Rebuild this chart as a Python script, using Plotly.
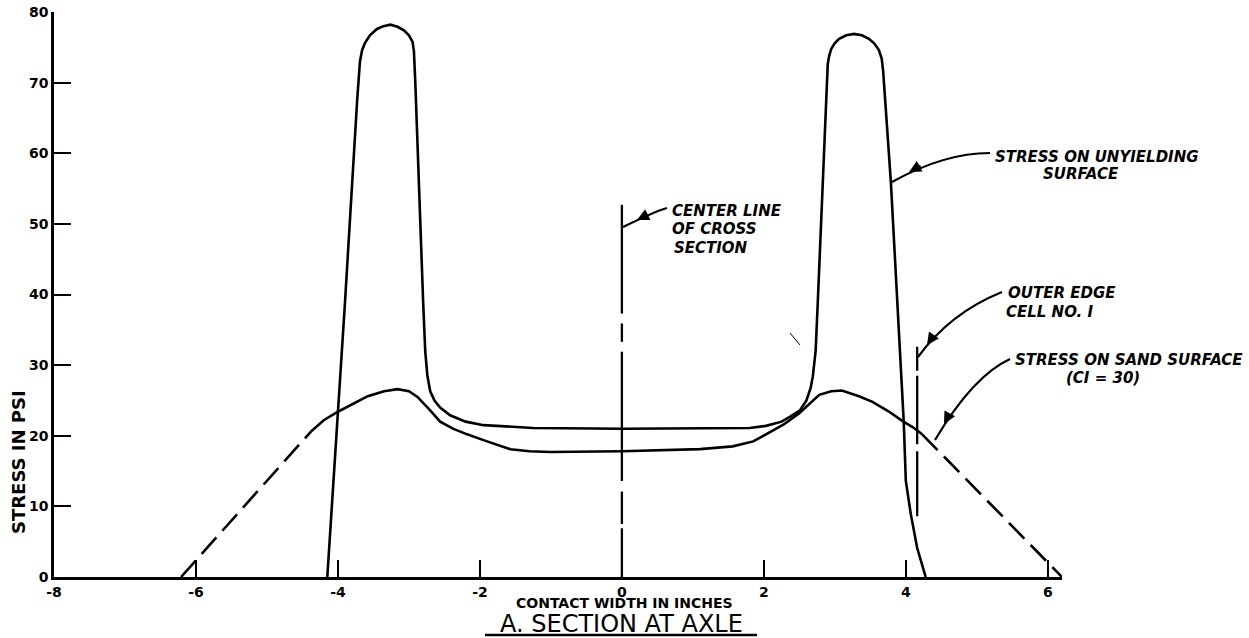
import plotly.graph_objects as go

# ---------------- data ----------------
unyielding_x = [-4.15, -4.03, -3.90, -3.73, -3.70, -3.69, -3.66, -3.62, -3.55, -3.45, -3.36, -3.26,
                -3.16, -3.07, -3.00, -2.95, -2.93, -2.92, -2.91, -2.80, -2.77, -2.74, -2.70, -2.64,
                -2.56, -2.42, -2.20, -1.95, -1.25, 0.0, 1.10, 1.80, 2.03, 2.25, 2.37, 2.51, 2.60,
                2.66, 2.69, 2.73, 2.76, 2.90, 2.92, 2.95, 3.00, 3.06, 3.16, 3.27, 3.38, 3.48, 3.56,
                3.62, 3.66, 3.68, 3.79, 3.88, 3.94, 3.97, 4.00, 4.07, 4.16, 4.28]
unyielding_y = [0, 18, 39, 67.4, 71.5, 73.0, 74.6, 75.6, 76.7, 77.6, 78.0, 78.2,
                77.9, 77.4, 76.7, 75.8, 74.5, 73.0, 70.0, 39, 31.9, 28.5, 26.3, 25.0,
                24.0, 22.9, 22.0, 21.5, 21.1, 21.0, 21.0, 21.1, 21.4, 22.0, 22.7, 23.6, 25.0,
                26.8, 28.4, 32.1, 39, 72.6, 73.8, 74.8, 75.6, 76.2, 76.7, 76.9, 76.7, 76.2, 75.5,
                74.6, 73.4, 71.7, 55.8, 39, 27.8, 22.1, 13.6, 8.9, 4.1, 0]

sand_x = [-4.38, -4.20, -4.00, -3.80, -3.58, -3.35, -3.16, -3.00, -2.88, -2.72, -2.56, -2.38,
          -2.18, -1.90, -1.57, -1.30, -1.01, 0.0, 1.10, 1.56, 1.85, 2.03, 2.28, 2.50, 2.65,
          2.78, 2.95, 3.10, 3.34, 3.53, 3.75, 3.95, 4.10, 4.23]
sand_y = [20.6, 22.2, 23.4, 24.5, 25.6, 26.3, 26.6, 26.3, 25.5, 23.8, 22.0, 21.0,
          20.2, 19.2, 18.1, 17.8, 17.7, 17.8, 18.1, 18.5, 19.2, 20.2, 21.6, 23.2, 24.6,
          25.8, 26.3, 26.4, 25.6, 24.8, 23.5, 22.1, 21.2, 20.2]

sand_left_x = [-6.21, -4.38]
sand_left_y = [0, 20.6]
sand_right_x = [4.23, 6.20]
sand_right_y = [20.2, 0]

center_x = [0, 0, None, 0, 0, None, 0, 0, None, 0, 0, None, 0, 0]
center_y = [52.7, 37.3, None, 35.9, 33.3, None, 31.9, 13.6, None, 12.1, 7.5, None, 6.9, 0]

edge_x = [4.16, 4.16, None, 4.16, 4.16, None, 4.16, 4.16]
edge_y = [32.6, 29.2, None, 28.5, 18.8, None, 17.8, 8.6]

x_ticks = [-8, -6, -4, -2, 0, 2, 4, 6]
x_labels = ["-8", "-6", "-4", "-2", "0", "2", "4", "6"]
y_ticks = [0, 10, 20, 30, 40, 50, 60, 70, 80]

# ---------------- layout geometry ----------------
W_PX, H_PX = 1249, 638
L, R, T, B = 54, 187, 12, 61
PW, PH = W_PX - L - R, H_PX - T - B
XR = [-8, 6.2]
YR = [0, 80]


def px(xp):  # pixel -> paper x
    return (xp - L) / PW


def py(yp):  # pixel -> paper y
    return (H_PX - B - yp) / PH


def dx(xp):  # pixel -> data x
    return XR[0] + (xp - L) / PW * (XR[1] - XR[0])


def dy(yp):  # pixel -> data y
    return YR[0] + (H_PX - B - yp) / PH * (YR[1] - YR[0])


LW = 2.6
fig = go.Figure()
fig.add_trace(go.Scatter(x=unyielding_x, y=unyielding_y, mode="lines",
                         line=dict(color="black", width=LW), hoverinfo="skip"))
fig.add_trace(go.Scatter(x=sand_x, y=sand_y, mode="lines",
                         line=dict(color="black", width=LW), hoverinfo="skip"))
for xs, ys in [(sand_left_x, sand_left_y), (sand_right_x, sand_right_y)]:
    fig.add_trace(go.Scatter(x=xs, y=ys, mode="lines",
                             line=dict(color="black", width=LW, dash="22px,9px"),
                             hoverinfo="skip"))
fig.add_trace(go.Scatter(x=center_x, y=center_y, mode="lines", connectgaps=False,
                         line=dict(color="black", width=2.3), hoverinfo="skip"))
fig.add_trace(go.Scatter(x=edge_x, y=edge_y, mode="lines", connectgaps=False,
                         line=dict(color="black", width=2.3), hoverinfo="skip"))

FONT = "DejaVu Sans"
shapes = []
annotations = []


def curve(s, c, e):
    path = "M {:.4f},{:.4f} Q {:.4f},{:.4f} {:.4f},{:.4f}".format(
        dx(s[0]), dy(s[1]), dx(c[0]), dy(c[1]), dx(e[0]), dy(e[1]))
    shapes.append(dict(type="path", path=path, xref="x", yref="y",
                       line=dict(color="black", width=2.2)))


def head(hx, hy, ax, ay):
    annotations.append(dict(x=px(hx), y=py(hy), xref="paper", yref="paper", text="",
                            showarrow=True, arrowhead=2, arrowsize=1.1, arrowwidth=2.2,
                            arrowcolor="black", ax=ax, ay=ay))


def label(text, xp, yp, xanchor="left", size=15, bold=True, italic=True):
    t = text
    if bold:
        t = "<b>" + t + "</b>"
    if italic:
        t = "<i>" + t + "</i>"
    annotations.append(dict(x=px(xp), y=py(yp), xref="paper", yref="paper", text=t,
                            showarrow=False, xanchor=xanchor, yanchor="middle",
                            font=dict(family=FONT, size=size, color="black")))


# center line callout
curve((667, 208), (656, 211), (623, 227))
head(637, 220, 10, -5)
label("CENTER LINE", 670, 211)
label("OF CROSS", 670, 229)
label("SECTION", 672, 248)

# unyielding callout
curve((990, 153), (944, 153), (892, 182))
head(909, 172, 13, -7)
label("STRESS ON UNYIELDING", 1097, 157, xanchor="center")
label("SURFACE", 1081, 174, xanchor="center")

# outer edge callout
curve((1002, 292), (950, 313), (918, 357))
head(927, 345, 7, -10)
label("OUTER EDGE", 1006, 293)
label("CELL NO. I", 1004, 312)

# sand callout
curve((1010, 359), (973, 376), (935, 440))
head(944, 424, 6, -11)
label("STRESS ON SAND SURFACE", 1129, 360, xanchor="center")
label("(CI = 30)", 1103, 378, xanchor="center")

# axis titles and caption
label("CONTACT WIDTH IN INCHES", 624, 603, xanchor="center", size=14, bold=True, italic=False)
label("A. SECTION AT AXLE", 621, 624, xanchor="center", size=24, bold=False, italic=False)
shapes.append(dict(type="line", xref="paper", yref="paper", x0=px(485), x1=px(757),
                   y0=py(635), y1=py(635), line=dict(color="black", width=2.4)))
annotations.append(dict(x=px(18), y=py(462), xref="paper", yref="paper",
                        text="<b>STRESS IN PSI</b>", showarrow=False, textangle=-90,
                        xanchor="center", yanchor="middle",
                        font=dict(family=FONT, size=18, color="black")))

# small stray mark from the scanned original
shapes.append(dict(type="line", xref="paper", yref="paper", x0=px(790), y0=py(333),
                   x1=px(800), y1=py(345), line=dict(color="black", width=1)))

fig.update_layout(
    width=W_PX, height=H_PX, autosize=False,
    margin=dict(l=L, r=R, t=T, b=B, autoexpand=False),
    paper_bgcolor="white", plot_bgcolor="white",
    showlegend=False,
    shapes=shapes, annotations=annotations,
    xaxis=dict(range=XR, tickvals=x_ticks, ticktext=x_labels, ticks="inside",
               ticklen=17, tickwidth=2, tickcolor="black", showline=True, linewidth=2.6,
               linecolor="black", showgrid=False, zeroline=False, mirror=False,
               automargin=False,
               tickfont=dict(family=FONT, size=14, color="black", weight="bold")),
    yaxis=dict(range=YR, tickvals=y_ticks, ticks="inside", ticklen=17, tickwidth=2,
               tickcolor="black", showline=True, linewidth=2.6, linecolor="black",
               showgrid=False, zeroline=False, mirror=False, automargin=False,
               tickfont=dict(family=FONT, size=14, color="black", weight="bold")),
)

fig.write_html(
    "out.html",
    config={"displayModeBar": False},
    post_script="document.body.style.margin='0';"
                "document.documentElement.style.overflow='hidden';"
                "document.body.style.overflow='hidden';",
)
